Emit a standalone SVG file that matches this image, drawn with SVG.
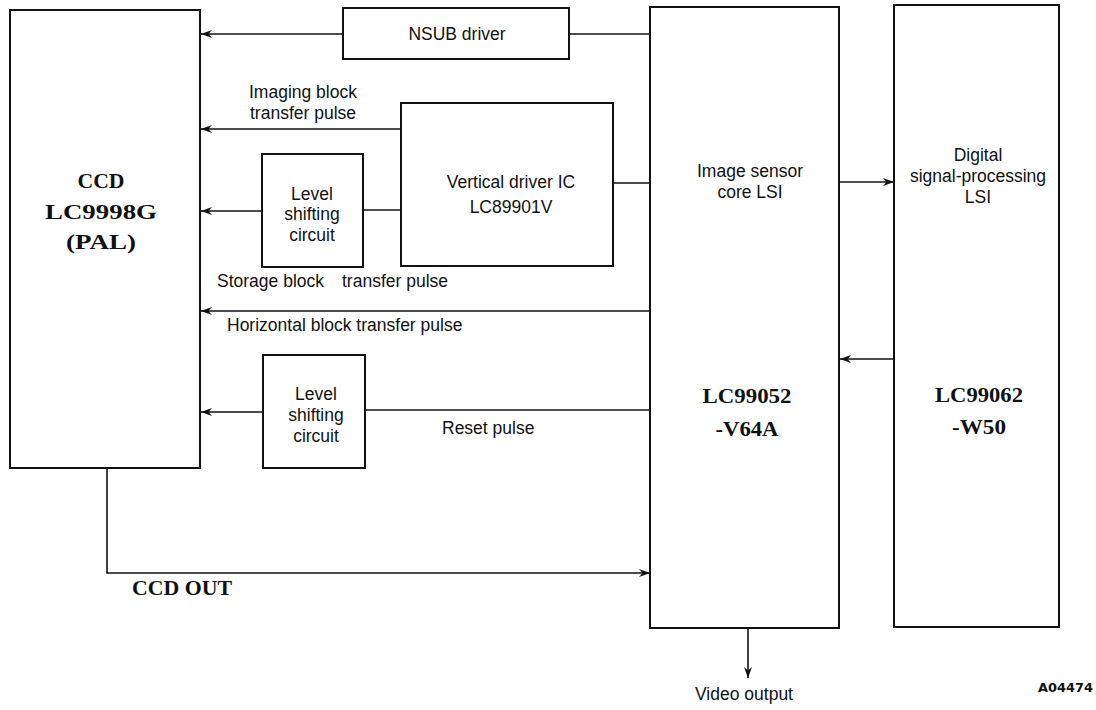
<svg xmlns="http://www.w3.org/2000/svg" width="1096" height="710" viewBox="0 0 1096 710">
<style>
.box{fill:#fff;stroke:#111;stroke-width:2}
.ln{fill:none;stroke:#111;stroke-width:1.6}
.s{font-family:"Liberation Sans",Arial,sans-serif;font-size:17.5px;fill:#111}
.sc{font-family:"Liberation Sans",Arial,sans-serif;font-size:17.5px;fill:#111;text-anchor:middle}
.b{font-family:"Liberation Serif","Times New Roman",serif;font-weight:bold;font-size:21px;fill:#111;text-anchor:middle}
</style>
<defs>
<marker id="ah" markerWidth="14" markerHeight="10" refX="11" refY="5" orient="auto" markerUnits="userSpaceOnUse">
<path d="M0,1 L11,5 L0,9 L3.5,5 Z" fill="#111"/>
</marker>
</defs>
<rect width="1096" height="710" fill="#fff"/>
<g id="connectors">
<path class="ln" d="M343,34 H201" marker-end="url(#ah)"/>
<path class="ln" d="M569,34 H650"/>
<path class="ln" d="M401,129 H201" marker-end="url(#ah)"/>
<path class="ln" d="M262,211 H201" marker-end="url(#ah)"/>
<path class="ln" d="M363,210 H401"/>
<path class="ln" d="M613,183 H650"/>
<path class="ln" d="M650,311 H201" marker-end="url(#ah)"/>
<path class="ln" d="M263,412 H201" marker-end="url(#ah)"/>
<path class="ln" d="M365,410 H650"/>
<path class="ln" d="M107,468 V573 H650" marker-end="url(#ah)"/>
<path class="ln" d="M839,182 H894" marker-end="url(#ah)"/>
<path class="ln" d="M894,359 H840" marker-end="url(#ah)"/>
<path class="ln" d="M748,628 V678" marker-end="url(#ah)"/>
</g>
<g id="ccd">
<rect class="box" x="10" y="10" width="190" height="458"/>
<text class="b" x="101" y="188" textLength="47" lengthAdjust="spacingAndGlyphs">CCD</text>
<text class="b" x="101" y="219" textLength="112" lengthAdjust="spacingAndGlyphs">LC9998G</text>
<text class="b" x="101" y="249" textLength="70" lengthAdjust="spacingAndGlyphs">(PAL)</text>
</g>
<g id="nsub">
<rect class="box" x="343" y="8" width="226" height="51"/>
<text class="sc" x="457" y="40">NSUB driver</text>
</g>
<g id="vdriver">
<rect class="box" x="401" y="103" width="212" height="163"/>
<text class="sc" x="511" y="188">Vertical driver IC</text>
<text class="sc" x="511" y="213">LC89901V</text>
</g>
<g id="level1">
<rect class="box" x="262" y="154" width="101" height="113"/>
<text class="sc" x="312" y="200">Level</text>
<text class="sc" x="312" y="220">shifting</text>
<text class="sc" x="312" y="241">circuit</text>
</g>
<g id="level2">
<rect class="box" x="263" y="355" width="102" height="113"/>
<text class="sc" x="316" y="400">Level</text>
<text class="sc" x="316" y="421">shifting</text>
<text class="sc" x="316" y="442">circuit</text>
</g>
<g id="isc">
<rect class="box" x="650" y="7" width="189" height="621"/>
<text class="sc" x="750" y="177">Image sensor</text>
<text class="sc" x="750" y="198">core LSI</text>
<text class="b" x="747" y="403" textLength="89" lengthAdjust="spacingAndGlyphs">LC99052</text>
<text class="b" x="747" y="436" textLength="63" lengthAdjust="spacingAndGlyphs">-V64A</text>
</g>
<g id="dsp">
<rect class="box" x="894" y="5" width="165" height="622"/>
<text class="sc" x="978" y="161">Digital</text>
<text class="sc" x="978" y="182">signal-processing</text>
<text class="sc" x="978" y="203">LSI</text>
<text class="b" x="979" y="402" textLength="88" lengthAdjust="spacingAndGlyphs">LC99062</text>
<text class="b" x="979" y="434" textLength="54" lengthAdjust="spacingAndGlyphs">-W50</text>
</g>
<g id="labels">
<text class="sc" x="303" y="98">Imaging block</text>
<text class="sc" x="303" y="119">transfer pulse</text>
<text class="s" x="217" y="287">Storage block</text>
<text class="s" x="342" y="287">transfer pulse</text>
<text class="s" x="227" y="331">Horizontal block transfer pulse</text>
<text class="s" x="442" y="434">Reset pulse</text>
<text class="b" x="182" y="595" textLength="100" lengthAdjust="spacingAndGlyphs">CCD OUT</text>
<text class="sc" x="744" y="700">Video output</text>
<text x="1093" y="692" textLength="55" lengthAdjust="spacingAndGlyphs" style="font-family:'DejaVu Sans',sans-serif;font-weight:bold;font-size:12px;fill:#111;text-anchor:end">A04474</text>
</g>
</svg>
